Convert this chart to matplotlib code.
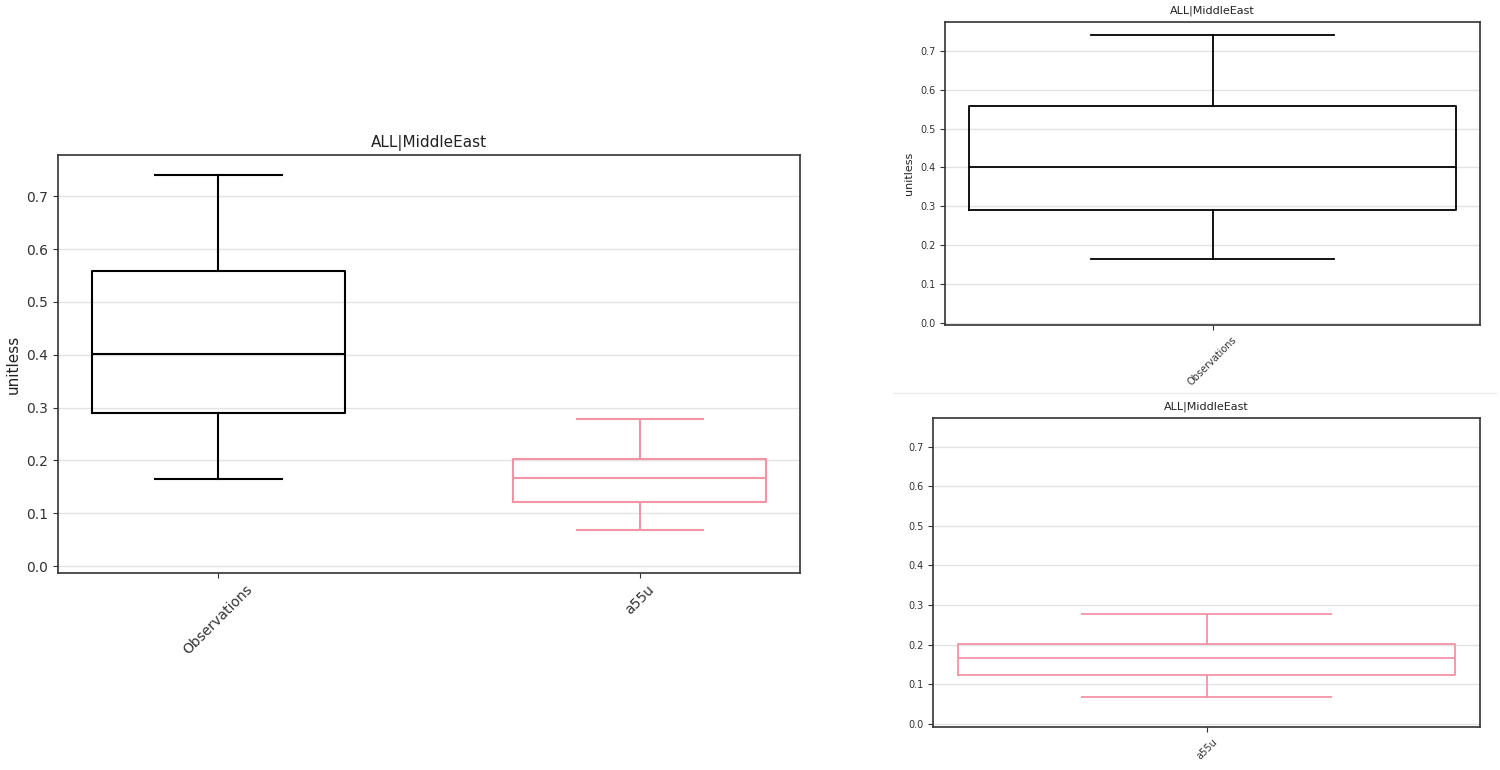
import matplotlib
matplotlib.use('Agg')
import matplotlib.pyplot as plt
from matplotlib.lines import Line2D

# box statistics
labels = ['Observations', 'a55u']
whislo = [0.165, 0.068]
q1 = [0.290, 0.122]
med = [0.402, 0.166]
q3 = [0.558, 0.202]
whishi = [0.740, 0.278]
colors = ['black', '#f393a6']
title = 'ALL|MiddleEast'
yticks = [0.0, 0.1, 0.2, 0.3, 0.4, 0.5, 0.6, 0.7]


def stats(i):
    return {'label': labels[i], 'whislo': whislo[i], 'q1': q1[i], 'med': med[i],
            'q3': q3[i], 'whishi': whishi[i], 'fliers': []}


def draw_box(ax, i, pos, width, lw):
    c = colors[i]
    ax.bxp([stats(i)], positions=[pos], widths=width, showfliers=False,
           boxprops=dict(color=c, linewidth=lw),
           medianprops=dict(color=c, linewidth=lw),
           whiskerprops=dict(color=c, linewidth=lw),
           capprops=dict(color=c, linewidth=lw),
           manage_ticks=False)


def style(ax, fs, ylim):
    ax.set_ylim(*ylim)
    ax.set_yticks(yticks)
    ax.yaxis.grid(True, color='#e3e3e3', linewidth=1.0)
    ax.set_axisbelow(True)
    ax.tick_params(labelsize=fs, colors='#333333')
    ax.set_title(title, fontsize=fs + 1, color='#222222')
    for s in ax.spines.values():
        s.set_color('#333333')
        s.set_linewidth(1.2)


fig = plt.figure(figsize=(15, 7.7), dpi=100)

# big combined panel
ax1 = fig.add_axes([0.0387, 0.2558, 0.4947, 0.543])
for i in range(len(labels)):
    draw_box(ax1, i, i, 0.6, 1.5)
ax1.set_xlim(-0.38, 1.38)
ax1.set_xticks(range(len(labels)))
ax1.set_xticklabels(labels, rotation=45)
style(ax1, 10, (-0.013, 0.778))
ax1.set_ylabel('unitless', fontsize=11, color='#222222')

# right top: observations only
ax2 = fig.add_axes([0.63, 0.578, 0.3567, 0.3935])
draw_box(ax2, 0, 0, 1.0, 1.3)
ax2.set_xlim(-0.55, 0.55)
ax2.set_xticks([0])
ax2.set_xticklabels([labels[0]], rotation=45, fontsize=6.5)
style(ax2, 7, (-0.005, 0.774))
ax2.set_ylabel('unitless', fontsize=8, color='#222222')

# right bottom: model only
ax3 = fig.add_axes([0.622, 0.056, 0.3647, 0.4013])
draw_box(ax3, 1, 0, 1.0, 1.3)
ax3.set_xlim(-0.55, 0.55)
ax3.set_xticks([0])
ax3.set_xticklabels([labels[1]], rotation=45, fontsize=6.5)
style(ax3, 7, (-0.008, 0.773))

# faint separator between the right panels
fig.add_artist(Line2D([0.595, 0.997], [0.489, 0.489], color='#ececec', linewidth=1))

fig.savefig('out.png', dpi=100)
